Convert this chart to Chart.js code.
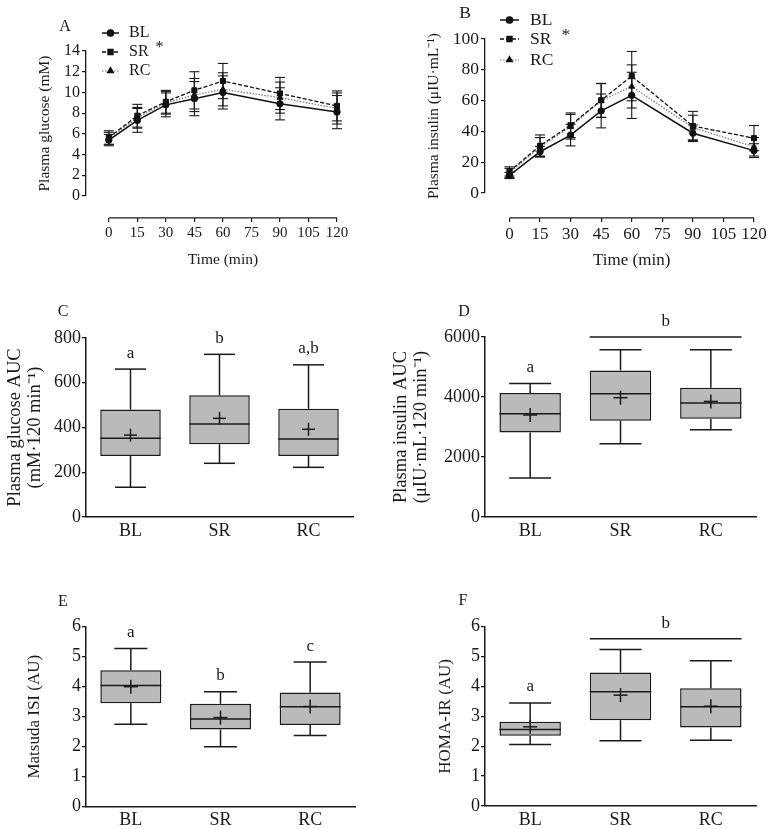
<!DOCTYPE html>
<html>
<head>
<meta charset="utf-8">
<script src="https://cdn.jsdelivr.net/npm/chart.js@4.4.1/dist/chart.umd.min.js"></script>
<style>
  html, body { margin: 0; padding: 0; background: #fff; }
  body { width: 772px; height: 829px; position: relative; overflow: hidden; }
  canvas { position: absolute; }
</style>
</head>
<body>
<canvas id="panelA" width="386" height="280" style="left:0;top:0"></canvas>
<canvas id="panelB" width="386" height="280" style="left:386px;top:0"></canvas>
<canvas id="panelC" width="386" height="260" style="left:0;top:290px"></canvas>
<canvas id="panelD" width="386" height="260" style="left:386px;top:290px"></canvas>
<canvas id="panelE" width="386" height="254" style="left:0;top:575px"></canvas>
<canvas id="panelF" width="386" height="254" style="left:386px;top:575px"></canvas>
<script>
const FONT = "'Liberation Serif', 'Times New Roman', serif";
const INK = '#1a1a1a';

// --- OGTT time course (A, B) ---
const groups = ['BL', 'SR', 'RC'];
const timePoints = [0, 15, 30, 45, 60, 90, 120];
const timeTicks = [0, 15, 30, 45, 60, 75, 90, 105, 120];

const glucoseBL = [5.4, 7.3, 8.8, 9.4, 10.0, 8.9, 8.1];
const glucoseSR = [5.65, 7.75, 9.1, 10.2, 11.1, 9.9, 8.7];
const glucoseRC = [5.55, 7.55, 9.0, 9.75, 10.3, 9.5, 8.45];
const glucoseSdBL = [0.55, 1.15, 1.15, 1.65, 1.6, 1.55, 1.6];
const glucoseSdSR = [0.65, 1.1, 1.1, 1.8, 1.7, 1.55, 1.45];
const glucoseSdRC = [0.6, 1.0, 1.1, 1.6, 1.6, 1.5, 1.5];

const insulinBL = [11.4, 26.8, 37.6, 53.3, 63.4, 38.8, 27.5];
const insulinSR = [14, 30.7, 44, 60.2, 75.9, 43.5, 35.6];
const insulinRC = [13, 30, 43, 60, 69.2, 42.5, 30];
const insulinSdBL = [2, 3.5, 7, 11, 15, 5.4, 4.5];
const insulinSdSR = [3, 7, 8, 11, 16, 9.5, 8.2];
const insulinSdRC = [3, 6, 8, 11, 14, 8, 6];

// --- box plots (C-F): min, q1, median, q3, max, mean per group ---
const glucoseAucMin = [133, 240, 222];
const glucoseAucQ1 = [273, 325, 273];
const glucoseAucMed = [352, 416, 349];
const glucoseAucQ3 = [480, 544, 484];
const glucoseAucMax = [661, 727, 680];
const glucoseAucMean = [366, 441, 392];
const glucoseAucLetters = ['a', 'b', 'a,b'];

const insulinAucMin = [1300, 2443, 2910];
const insulinAucQ1 = [2820, 3210, 3277];
const insulinAucMed = [3443, 4110, 3800];
const insulinAucQ3 = [4133, 4887, 4310];
const insulinAucMax = [4453, 5577, 5577];
const insulinAucMean = [3400, 3977, 3853];
const insulinAucLetters = ['a', '', ''];

const matsudaMin = [2.75, 2.0, 2.37];
const matsudaQ1 = [3.45, 2.57, 2.72];
const matsudaMed = [4.04, 2.92, 3.33];
const matsudaQ3 = [4.55, 3.43, 3.81];
const matsudaMax = [5.27, 3.83, 4.82];
const matsudaMean = [4.0, 2.97, 3.34];
const matsudaLetters = ['a', 'b', 'c'];

const homaMin = [2.06, 2.18, 2.2];
const homaQ1 = [2.35, 2.87, 2.63];
const homaMed = [2.56, 3.82, 3.32];
const homaQ3 = [2.82, 4.47, 3.94];
const homaMax = [3.45, 5.24, 4.86];
const homaMean = [2.65, 3.71, 3.34];
const homaLetters = ['a', '', ''];

Chart.defaults.font.family = FONT;
Chart.defaults.color = INK;

const lineStyles = [
  { color: '#111', dash: [], width: 1.5, point: 'circle', r: 3.2 },
  { color: '#111', dash: [4, 2], width: 1.3, point: 'rect', r: 3.6 },
  { color: '#777', dash: [1.5, 1.5], width: 1.2, point: 'triangle', r: 3.4 }
];

function line(ctx, x1, y1, x2, y2) {
  ctx.beginPath();
  ctx.moveTo(x1, y1);
  ctx.lineTo(x2, y2);
  ctx.stroke();
}

// error bars (mean +/- SD) under the points
const errorBars = {
  id: 'errorBars',
  beforeDatasetsDraw(chart, args, opts) {
    const { ctx } = chart, xs = chart.scales.x, ys = chart.scales.y;
    ctx.save();
    ctx.strokeStyle = INK;
    ctx.lineWidth = 1.1;
    chart.data.datasets.forEach((ds, i) => {
      ds.data.forEach((p, j) => {
        const sd = opts.sd[i][j];
        const px = xs.getPixelForValue(p.x);
        const top = ys.getPixelForValue(p.y + sd);
        const bot = ys.getPixelForValue(p.y - sd);
        line(ctx, px, top, px, bot);
        line(ctx, px - opts.cap, top, px + opts.cap, top);
        line(ctx, px - opts.cap, bot, px + opts.cap, bot);
      });
    });
    ctx.restore();
  }
};

// detached x axis line, x title, legend, panel letter
const timeDecor = {
  id: 'timeDecor',
  afterDraw(chart, args, o) {
    const { ctx } = chart, xs = chart.scales.x, ys = chart.scales.y;
    ctx.save();
    ctx.strokeStyle = INK;
    ctx.fillStyle = INK;
    ctx.lineWidth = 1.3;
    const ay = ys.getPixelForValue(o.axisAt);
    const x0 = xs.getPixelForValue(timeTicks[0]);
    const x1 = xs.getPixelForValue(timeTicks[timeTicks.length - 1]);
    line(ctx, x0, ay, x1, ay);

    ctx.textAlign = 'center';
    ctx.textBaseline = 'middle';
    ctx.font = o.titleSize + 'px ' + FONT;
    ctx.fillText('Time (min)', (x0 + x1) / 2, o.xTitleY);

    ctx.font = o.textSize + 'px ' + FONT;
    ctx.fillText(o.panel, o.panelAt[0], o.panelAt[1]);

    const L = o.legend;
    chart.data.datasets.forEach((ds, i) => {
      const y = L.ys[i];
      ctx.save();
      ctx.strokeStyle = ds.borderColor;
      ctx.lineWidth = ds.borderWidth;
      ctx.setLineDash(ds.borderDash);
      line(ctx, L.x1, y, L.x2, y);
      ctx.restore();
      ctx.fillStyle = '#111';
      ctx.strokeStyle = '#111';
      Chart.helpers.drawPoint(ctx, { pointStyle: ds.pointStyle, radius: ds.pointRadius, borderWidth: 1, rotation: 0 }, (L.x1 + L.x2) / 2, y);
      ctx.fillStyle = INK;
      ctx.textAlign = 'left';
      ctx.font = o.textSize + 'px ' + FONT;
      ctx.fillText(ds.label, L.tx, y);
    });
    ctx.fillText('*', L.star[0], L.star[1]);
    ctx.restore();
  }
};

function timeCourse(id, series, sds, o) {
  new Chart(document.getElementById(id), {
    type: 'line',
    data: {
      datasets: series.map((vals, i) => ({
        label: groups[i],
        data: timePoints.map((t, j) => ({ x: t, y: vals[j] })),
        borderColor: lineStyles[i].color,
        borderDash: lineStyles[i].dash,
        borderWidth: lineStyles[i].width,
        pointStyle: lineStyles[i].point,
        pointRadius: lineStyles[i].r,
        pointBackgroundColor: '#111',
        pointBorderColor: '#111',
        pointBorderWidth: 1,
        tension: 0,
        clip: false
      }))
    },
    options: {
      responsive: false,
      animation: false,
      events: [],
      layout: { padding: o.pad },
      plugins: {
        legend: { display: false },
        tooltip: { enabled: false },
        errorBars: { sd: sds, cap: 5 },
        timeDecor: o.decor
      },
      scales: {
        x: {
          type: 'linear',
          min: -12,
          max: 120,
          position: { y: o.decor.axisAt },
          afterBuildTicks: s => { s.ticks = timeTicks.map(v => ({ value: v })); },
          border: { display: false },
          grid: { drawOnChartArea: false, drawTicks: true, tickLength: 4, color: INK, lineWidth: 1.2 },
          ticks: { font: { size: o.xTick }, color: INK, padding: 2, autoSkip: false, maxRotation: 0, minRotation: 0 }
        },
        y: {
          min: 0,
          max: o.yMax,
          afterFit: s => { s.width = o.yWidth; },
          border: { display: true, color: INK, width: 1.3 },
          grid: { drawOnChartArea: false, drawTicks: true, tickLength: 4, color: INK, lineWidth: 1.2 },
          ticks: { stepSize: o.yStep, autoSkip: false, font: { size: o.yTick }, color: INK, padding: 2, callback: v => String(v) },
          title: { display: true, text: o.yTitle, font: { size: 15.5 }, color: INK, padding: 0 }
        }
      }
    },
    plugins: [errorBars, timeDecor]
  });
}

// whiskers, median, mean cross, letters, panel letter
const boxMarks = {
  id: 'boxMarks',
  afterDatasetsDraw(chart, args, o) {
    const { ctx } = chart, ys = chart.scales.y;
    const meta = chart.getDatasetMeta(0);
    ctx.save();
    ctx.strokeStyle = INK;
    ctx.fillStyle = INK;
    ctx.lineWidth = 1.5;
    ctx.textAlign = 'center';
    ctx.textBaseline = 'middle';
    ctx.font = '17px ' + FONT;
    meta.data.forEach((bar, i) => {
      const cx = bar.x, half = bar.width / 2;
      const pMin = ys.getPixelForValue(o.min[i]);
      const pQ1 = ys.getPixelForValue(o.q1[i]);
      const pMed = ys.getPixelForValue(o.med[i]);
      const pQ3 = ys.getPixelForValue(o.q3[i]);
      const pMax = ys.getPixelForValue(o.max[i]);
      const pMean = ys.getPixelForValue(o.mean[i]);
      line(ctx, cx, pMin, cx, pQ1);
      line(ctx, cx, pQ3, cx, pMax);
      line(ctx, cx - o.cap / 2, pMin, cx + o.cap / 2, pMin);
      line(ctx, cx - o.cap / 2, pMax, cx + o.cap / 2, pMax);
      line(ctx, cx - half, pMed, cx + half, pMed);
      line(ctx, cx - o.plus, pMean, cx + o.plus, pMean);
      line(ctx, cx, pMean - o.plus, cx, pMean + o.plus);
      if (o.letters[i]) ctx.fillText(o.letters[i], cx, pMax - 16);
    });
    (o.spans || []).forEach(s => {
      const b1 = meta.data[s.from], b2 = meta.data[s.to];
      const py = ys.getPixelForValue(s.at);
      line(ctx, b1.x - b1.width / 2, py, b2.x + b2.width / 2, py);
      ctx.fillText(s.text, (b1.x + b2.x) / 2, py - 15);
    });
    ctx.font = '16px ' + FONT;
    ctx.fillText(o.panel, o.panelAt[0], o.panelAt[1]);
    ctx.restore();
  }
};

function boxChart(id, st, o) {
  new Chart(document.getElementById(id), {
    type: 'bar',
    data: {
      labels: groups,
      datasets: [{
        data: groups.map((g, i) => [st.q1[i], st.q3[i]]),
        backgroundColor: '#bababa',
        borderColor: INK,
        borderWidth: 1.5,
        borderSkipped: false,
        barPercentage: 0.68,
        categoryPercentage: 1
      }]
    },
    options: {
      responsive: false,
      animation: false,
      events: [],
      layout: { padding: o.pad },
      plugins: {
        legend: { display: false },
        tooltip: { enabled: false },
        boxMarks: Object.assign({}, st, o.marks)
      },
      scales: {
        x: {
          afterFit: s => { s.height = o.xHeight; },
          border: { display: true, color: INK, width: 1.5 },
          grid: { display: false, drawTicks: false },
          ticks: { font: { size: 18 }, color: INK, padding: 3 }
        },
        y: {
          min: 0,
          max: o.yMax,
          afterFit: s => { s.width = o.yWidth; },
          border: { display: true, color: INK, width: 1.5 },
          grid: { drawOnChartArea: false, drawTicks: true, tickLength: 4, color: INK, lineWidth: 1.3 },
          ticks: { stepSize: o.yStep, autoSkip: false, font: { size: 18 }, color: INK, padding: 1, callback: v => String(v) },
          title: { display: true, text: o.yTitle, font: { size: o.titleSize, lineHeight: 1.1 }, color: INK, padding: 0 }
        }
      }
    },
    plugins: [boxMarks]
  });
}

timeCourse('panelA', [glucoseBL, glucoseSR, glucoseRC], [glucoseSdBL, glucoseSdSR, glucoseSdRC], {
  pad: { left: 35.7, top: 51, right: 49, bottom: 84 },
  yWidth: 50.3, yMax: 14, yStep: 2, xTick: 15, yTick: 16,
  yTitle: 'Plasma glucose (mM)',
  decor: {
    axisAt: -2.12, xTitleY: 260, panel: 'A', panelAt: [65, 27], titleSize: 15.5, textSize: 16,
    legend: { x1: 102, x2: 119, tx: 129, ys: [33, 52, 71], star: [155.5, 48] }
  }
});

timeCourse('panelB', [insulinBL, insulinSR, insulinRC], [insulinSdBL, insulinSdSR, insulinSdRC], {
  pad: { left: 38.2, top: 39, right: 18, bottom: 87 },
  yWidth: 60.8, yMax: 100, yStep: 20, xTick: 17, yTick: 17.5,
  yTitle: 'Plasma insulin (\u03bcIU\u00b7mL\u207b\u00b9)',
  decor: {
    axisAt: -16.2, xTitleY: 261, panel: 'B', panelAt: [79, 13], titleSize: 17, textSize: 17.5,
    legend: { x1: 114, x2: 133, tx: 144, ys: [20, 39, 60], star: [175.5, 35] }
  }
});

boxChart('panelC', { min: glucoseAucMin, q1: glucoseAucQ1, med: glucoseAucMed, q3: glucoseAucQ3, max: glucoseAucMax, mean: glucoseAucMean, letters: glucoseAucLetters }, {
  pad: { left: 5, top: 48, right: 33, bottom: 3 },
  yWidth: 81, xHeight: 30, yMax: 800, yStep: 200, titleSize: 18.5,
  yTitle: ['Plasma glucose AUC', '(mM\u00b7120 min\u207b\u00b9)'],
  marks: { cap: 31, plus: 6.5, panel: 'C', panelAt: [63, 22] }
});

boxChart('panelD', { min: insulinAucMin, q1: insulinAucQ1, med: insulinAucMed, q3: insulinAucQ3, max: insulinAucMax, mean: insulinAucMean, letters: insulinAucLetters }, {
  pad: { left: 5, top: 47, right: 16, bottom: 3 },
  yWidth: 94, xHeight: 30, yMax: 6000, yStep: 2000, titleSize: 18.5,
  yTitle: ['Plasma insulin AUC', '(\u03bcIU\u00b7mL\u00b7120 min\u207b\u00b9)'],
  marks: { cap: 42, plus: 7, panel: 'D', panelAt: [78, 22], spans: [{ from: 1, to: 2, at: 6000, text: 'b' }] }
});

boxChart('panelE', { min: matsudaMin, q1: matsudaQ1, med: matsudaMed, q3: matsudaQ3, max: matsudaMax, mean: matsudaMean, letters: matsudaLetters }, {
  pad: { left: 24.8, top: 51.7, right: 31, bottom: 0 },
  yWidth: 61.2, xHeight: 22.3, yMax: 6, yStep: 1, titleSize: 17,
  yTitle: 'Matsuda ISI (AU)',
  marks: { cap: 33, plus: 7, panel: 'E', panelAt: [63, 27] }
});

boxChart('panelF', { min: homaMin, q1: homaQ1, med: homaMed, q3: homaQ3, max: homaMax, mean: homaMean, letters: homaLetters }, {
  pad: { left: 49.8, top: 51.7, right: 16, bottom: 0 },
  yWidth: 49.2, xHeight: 23, yMax: 6, yStep: 1, titleSize: 17,
  yTitle: 'HOMA-IR (AU)',
  marks: { cap: 42, plus: 7, panel: 'F', panelAt: [77, 26], spans: [{ from: 1, to: 2, at: 5.6, text: 'b' }] }
});
</script>
</body>
</html>
